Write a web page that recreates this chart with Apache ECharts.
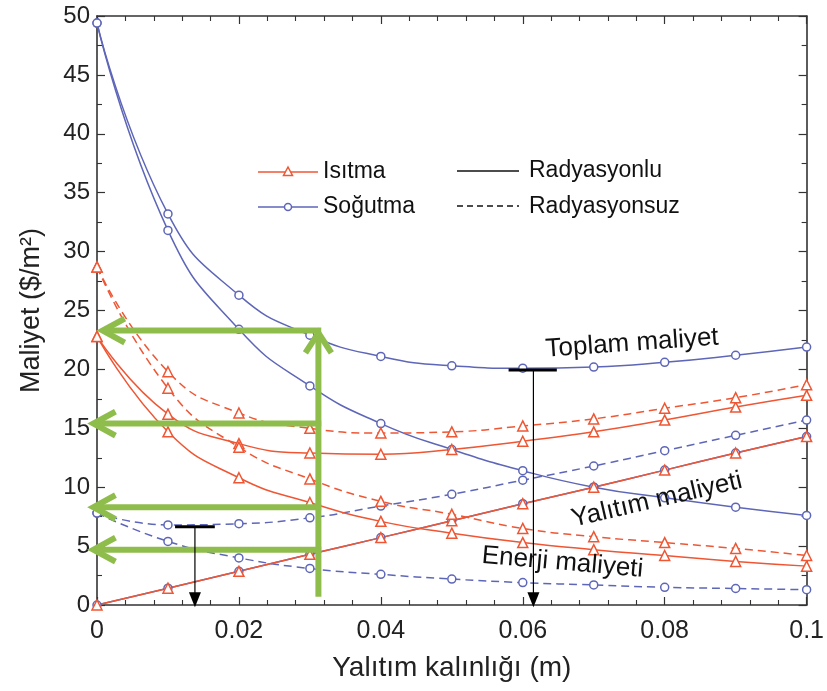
<!DOCTYPE html>
<html><head><meta charset="utf-8">
<script src="https://cdn.jsdelivr.net/npm/echarts/dist/echarts.min.js"></script>
<style>html,body{margin:0;padding:0;background:#fff;}#c{width:827px;height:691px;}</style>
</head><body><div id="c"></div>
<script>
// ---- data ----
const thickness = [0, 0.01, 0.02, 0.03, 0.04, 0.05, 0.06, 0.07, 0.08, 0.09, 0.1];
const insulationCost = [0, 1.43, 2.86, 4.3, 5.72, 7.15, 8.6, 10.0, 11.45, 12.9, 14.3];
const coolRadEnergy = [49.4, 31.8, 23.4, 18.6, 15.4, 13.2, 11.4, 10.0, 9.1, 8.3, 7.6];
const coolRadTotal = [49.4, 33.2, 26.3, 22.9, 21.1, 20.3, 20.1, 20.2, 20.6, 21.2, 21.9];
const coolNoRadEnergy = [7.8, 5.4, 4.0, 3.1, 2.6, 2.2, 1.9, 1.7, 1.5, 1.4, 1.3];
const coolNoRadTotal = [7.8, 6.8, 6.9, 7.4, 8.4, 9.4, 10.6, 11.8, 13.1, 14.4, 15.7];
const heatRadEnergy = [22.8, 14.7, 10.8, 8.7, 7.1, 6.1, 5.3, 4.7, 4.2, 3.7, 3.3];
const heatRadTotal = [22.8, 16.2, 13.7, 12.9, 12.8, 13.2, 13.9, 14.7, 15.7, 16.8, 17.8];
const heatNoRadEnergy = [28.7, 18.4, 13.4, 10.7, 8.8, 7.7, 6.5, 5.8, 5.3, 4.8, 4.2];
const heatNoRadTotal = [28.7, 19.8, 16.3, 15.0, 14.6, 14.7, 15.2, 15.8, 16.7, 17.6, 18.7];

// annotations (data coordinates)
const greenVertical = {x: 0.0312, y0: 0.7, y1: 23.1};
const greenArrowY = [23.3, 15.4, 8.3, 4.7];
const greenArrowTipX = [0.0008, -0.0005, -0.0005, -0.0005];
const greenArrowStartX = 0.0316;
const blackMarks = [
  {x: 0.0138, y: 6.65, barFrom: 0.011, barTo: 0.0166},
  {x: 0.0615, y: 19.95, barFrom: 0.058, barTo: 0.0648}
];
const curveLabels = [
  {text: 'Toplam maliyet', x: 0.0754, y: 22.2, rot: 4},
  {text: 'Yalıtım maliyeti', x: 0.0789, y: 8.9, rot: 13},
  {text: 'Enerji maliyeti', x: 0.0656, y: 3.6, rot: -5}
];

const RED = '#ef5634', BLUE = '#5e66b8', GREEN = '#8fbd4c';
const FONT = 'Liberation Sans, Arial, sans-serif';

function pairs(ys) { return thickness.map((x, i) => [x, ys[i]]); }
function mk(name, ys, color, dashed, symbol, size) {
  return {
    name, type: 'line', data: pairs(ys), smooth: 0.5,
    symbol, symbolSize: size, showSymbol: true,
    lineStyle: {color, width: 1.5, type: dashed ? [8, 5] : 'solid'},
    itemStyle: {color: '#fff', borderColor: color, borderWidth: 1.5},
    emphasis: {disabled: true}, animation: false
  };
}

const chart = echarts.init(document.getElementById('c'));
const axisCommon = {
  axisLine: {show: true, onZero: false, lineStyle: {color: '#333', width: 1.6}},
  axisTick: {show: true, inside: true, length: 8, lineStyle: {color: '#333', width: 1.2}},
  splitLine: {show: false}
};
chart.setOption({
  animation: false,
  grid: {left: 97, right: 19, top: 16, bottom: 86},
  xAxis: [
    Object.assign({type: 'value', min: 0, max: 0.1, interval: 0.02, position: 'bottom',
      name: 'Yalıtım kalınlığı (m)', nameLocation: 'middle', nameGap: 49,
      nameTextStyle: {fontSize: 28, color: '#222', fontFamily: FONT},
      axisLabel: {fontSize: 25, color: '#222', fontFamily: FONT, margin: 14},
      minorTick: {show: true, splitNumber: 5, length: 5, lineStyle: {color: '#333', width: 1.1}}
    }, axisCommon),
    Object.assign({type: 'value', min: 0, max: 0.1, interval: 0.02, position: 'top',
      axisLabel: {show: false},
      minorTick: {show: true, splitNumber: 5, length: 5, lineStyle: {color: '#333', width: 1.1}}
    }, axisCommon)
  ],
  yAxis: [
    Object.assign({type: 'value', min: 0, max: 50, interval: 5, position: 'left',
      name: 'Maliyet ($/m²)', nameLocation: 'middle', nameGap: 52,
      nameTextStyle: {fontSize: 27, color: '#222', fontFamily: FONT},
      axisLabel: {fontSize: 24, color: '#222', fontFamily: FONT, margin: 7},
      minorTick: {show: true, splitNumber: 2, length: 5, lineStyle: {color: '#333', width: 1.1}}
    }, axisCommon),
    Object.assign({type: 'value', min: 0, max: 50, interval: 5, position: 'right',
      axisLabel: {show: false},
      minorTick: {show: true, splitNumber: 2, length: 5, lineStyle: {color: '#333', width: 1.1}}
    }, axisCommon)
  ],
  series: [
    mk('Soğutma yalıtım', insulationCost, BLUE, false, 'circle', 8),
    mk('Soğutma enerji radyasyonlu', coolRadEnergy, BLUE, false, 'circle', 8),
    mk('Soğutma toplam radyasyonlu', coolRadTotal, BLUE, false, 'circle', 8),
    mk('Soğutma enerji radyasyonsuz', coolNoRadEnergy, BLUE, true, 'circle', 8),
    mk('Soğutma toplam radyasyonsuz', coolNoRadTotal, BLUE, true, 'circle', 8),
    mk('Isıtma yalıtım', insulationCost, RED, false, 'triangle', 10),
    mk('Isıtma enerji radyasyonlu', heatRadEnergy, RED, false, 'triangle', 10),
    mk('Isıtma toplam radyasyonlu', heatRadTotal, RED, false, 'triangle', 10),
    mk('Isıtma enerji radyasyonsuz', heatNoRadEnergy, RED, true, 'triangle', 10),
    mk('Isıtma toplam radyasyonsuz', heatNoRadTotal, RED, true, 'triangle', 10)
  ]
});

function px(x, y) { return chart.convertToPixel({gridIndex: 0}, [x, y]); }
const g = [];
// green arrows
const gs = {stroke: GREEN, lineWidth: 6, fill: null, lineJoin: 'miter', lineCap: 'butt'};
greenArrowY.forEach((y, i) => {
  const a = px(greenArrowStartX, y), t = px(greenArrowTipX[i], y);
  g.push({type: 'line', shape: {x1: a[0], y1: a[1], x2: t[0] + 2, y2: t[1]}, style: gs, z: 50});
  g.push({type: 'polyline', shape: {points: [[t[0] + 22, t[1] - 12], [t[0], t[1]], [t[0] + 22, t[1] + 12]]}, style: gs, z: 50});
});
{
  const b = px(greenVertical.x, greenVertical.y0), t = px(greenVertical.x, greenVertical.y1);
  g.push({type: 'line', shape: {x1: b[0], y1: b[1], x2: t[0], y2: t[1] + 2}, style: gs, z: 50});
  g.push({type: 'polyline', shape: {points: [[t[0] - 13, t[1] + 20], [t[0], t[1]], [t[0] + 13, t[1] + 20]]}, style: gs, z: 50});
}
// black arrows
blackMarks.forEach(m => {
  const b1 = px(m.barFrom, m.y), b2 = px(m.barTo, m.y), top = px(m.x, m.y), tip = px(m.x, -0.2);
  g.push({type: 'line', shape: {x1: b1[0], y1: b1[1], x2: b2[0], y2: b2[1]}, style: {stroke: '#000', lineWidth: 3}, z: 60});
  g.push({type: 'line', shape: {x1: top[0], y1: top[1], x2: tip[0], y2: tip[1] - 10}, style: {stroke: '#000', lineWidth: 1.2}, z: 60});
  g.push({type: 'polygon', shape: {points: [[tip[0], tip[1]], [tip[0] - 6, tip[1] - 15], [tip[0] + 6, tip[1] - 15]]}, style: {fill: '#000'}, z: 60});
});
// curve labels
curveLabels.forEach(l => {
  const p = px(l.x, l.y);
  g.push({type: 'text', x: p[0], y: p[1], rotation: l.rot * Math.PI / 180,
    style: {text: l.text, font: '26px ' + FONT, fill: '#111', align: 'center', verticalAlign: 'middle'}, z: 70});
});
// legend
const lg = [
  {y: 172, color: RED, sym: 'tri', text: 'Isıtma'},
  {y: 207, color: BLUE, sym: 'circ', text: 'Soğutma'}
];
lg.forEach(l => {
  g.push({type: 'line', shape: {x1: 258, y1: l.y, x2: 318, y2: l.y}, style: {stroke: l.color, lineWidth: 1.5}, z: 80});
  if (l.sym === 'tri') g.push({type: 'polygon', shape: {points: [[288, l.y - 5], [283.5, l.y + 3.5], [292.5, l.y + 3.5]]}, style: {fill: '#fff', stroke: l.color, lineWidth: 1.5}, z: 81});
  else g.push({type: 'circle', shape: {cx: 288, cy: l.y, r: 3.5}, style: {fill: '#fff', stroke: l.color, lineWidth: 1.5}, z: 81});
  g.push({type: 'text', x: 323, y: l.y, style: {text: l.text, font: '23px ' + FONT, fill: '#111', verticalAlign: 'middle'}, z: 80});
});
g.push({type: 'line', shape: {x1: 457, y1: 171, x2: 519, y2: 171}, style: {stroke: '#111', lineWidth: 1.5}, z: 80});
g.push({type: 'text', x: 529, y: 171, style: {text: 'Radyasyonlu', font: '23px ' + FONT, fill: '#111', verticalAlign: 'middle'}, z: 80});
g.push({type: 'line', shape: {x1: 457, y1: 206, x2: 519, y2: 206}, style: {stroke: '#111', lineWidth: 1.5, lineDash: [6, 4]}, z: 80});
g.push({type: 'text', x: 529, y: 207, style: {text: 'Radyasyonsuz', font: '23px ' + FONT, fill: '#111', verticalAlign: 'middle'}, z: 80});

chart.setOption({graphic: g});
</script>
</body></html>
